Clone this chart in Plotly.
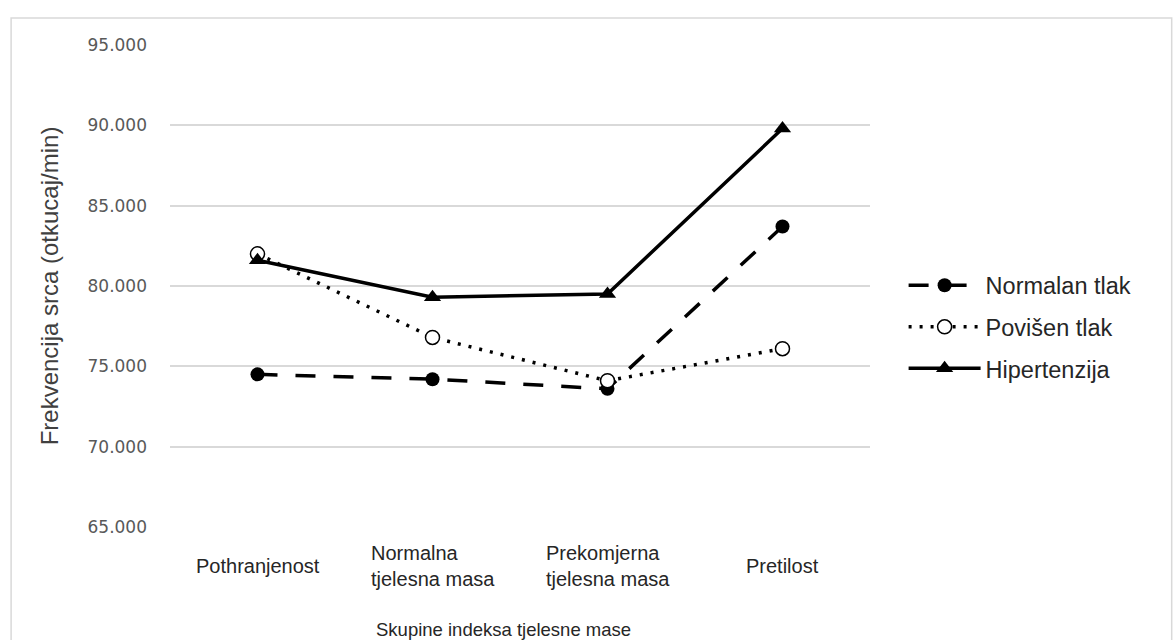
import plotly.graph_objects as go

# Body-mass-index groups (category axis)
categories = ["Pothranjenost", "Normalna tjelesna masa", "Prekomjerna tjelesna masa", "Pretilost"]
category_labels = ["Pothranjenost", "Normalna<br>tjelesna masa", "Prekomjerna<br>tjelesna masa", "Pretilost"]

# Mean heart rate (beats/min) per blood-pressure group
normalan_tlak = [74.5, 74.2, 73.6, 83.7]
povisen_tlak = [82.0, 76.8, 74.1, 76.1]
hipertenzija = [81.6, 79.3, 79.5, 89.8]

y_ticks = [65, 70, 75, 80, 85, 90, 95]

FONT = "Liberation Sans, Arial, sans-serif"

fig = go.Figure()

fig.add_trace(go.Scatter(
    x=categories, y=normalan_tlak, name="Normalan tlak", mode="lines+markers",
    legendgroup="a",
    line=dict(color="black", width=3.5, dash="20px,18px"),
    marker=dict(symbol="circle", size=14, color="black"),
))
fig.add_trace(go.Scatter(
    x=categories, y=povisen_tlak, name="Povišen tlak", mode="lines+markers",
    legendgroup="b",
    line=dict(color="black", width=3.5, dash="3px,8px"),
    marker=dict(symbol="circle", size=14, color="white", line=dict(color="black", width=1.5)),
))
fig.add_trace(go.Scatter(
    x=categories, y=hipertenzija, name="Hipertenzija", mode="lines+markers",
    legendgroup="c",
    line=dict(color="black", width=3.5),
    marker=dict(symbol="triangle-up", size=15, color="black"),
))

# Category labels, left-aligned within each block
for cat, lab in zip(categories, category_labels):
    fig.add_annotation(
        x=cat, xref="x", y=-0.081, yref="paper", text=lab, showarrow=False,
        align="left", xanchor="center", yanchor="middle",
        font=dict(family=FONT, size=20, color="#262626"),
    )

fig.add_annotation(
    x=0.476, xref="paper", y=-0.212, yref="paper", text="Skupine indeksa tjelesne mase",
    showarrow=False, xanchor="center", yanchor="middle",
    font=dict(family=FONT, size=18.5, color="#262626"),
)

# Chart-area border
fig.add_shape(
    type="rect", xref="paper", yref="paper", x0=-0.227, x1=1.431, y0=-0.3, y1=1.056,
    line=dict(color="#d9d9d9", width=1.5), fillcolor="rgba(0,0,0,0)", layer="below",
)

fig.update_layout(
    width=1173, height=640,
    margin=dict(l=170, r=303, t=45, b=113),
    paper_bgcolor="white", plot_bgcolor="white",
    font=dict(family=FONT, color="#262626"),
    showlegend=True,
    legend=dict(
        x=1.048, y=0.415, xanchor="left", yanchor="middle",
        font=dict(family=FONT, size=23.5, color="#262626"),
        tracegroupgap=8, traceorder="grouped",
        itemwidth=72, bgcolor="rgba(0,0,0,0)",
    ),
    xaxis=dict(
        type="category", range=[-0.5, 3.5], showticklabels=False,
        showgrid=False, zeroline=False, showline=False, ticks="",
    ),
    yaxis=dict(
        range=[65, 95], tickvals=y_ticks, tickformat=".3f",
        showgrid=True, gridcolor="#d9d9d9", gridwidth=1.5,
        zeroline=False, showline=False, ticks="",
        ticklabelstandoff=22,
        tickfont=dict(family="DejaVu Sans, sans-serif", size=17, color="#595959"),
        title=dict(text="Frekvencija srca (otkucaj/min)", standoff=22,
                   font=dict(family=FONT, size=24, color="#404040")),
    ),
)

fig.write_html("out.html")
